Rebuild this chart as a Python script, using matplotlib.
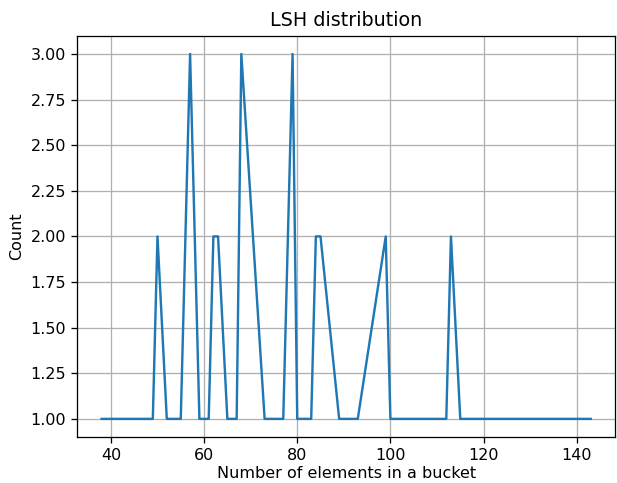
import matplotlib
matplotlib.use('Agg')
import matplotlib.pyplot as plt

# Bucket sizes (x) and how many buckets have that size (y)
bucket_sizes = [38, 49, 50, 52, 55, 57, 59, 61, 62, 63, 65, 67, 68, 73, 77, 79,
                80, 83, 84, 85, 89, 93, 99, 100, 112, 113, 115, 143]
bucket_counts = [1, 1, 2, 1, 1, 3, 1, 1, 2, 2, 1, 1, 3, 1, 1, 3,
                 1, 1, 2, 2, 1, 1, 2, 1, 1, 2, 1, 1]

dpi = 115
fig = plt.figure(figsize=(617 / dpi, 483 / dpi), dpi=dpi)
ax = fig.add_subplot(111)
fig.subplots_adjust(left=0.125, right=0.997, bottom=0.095, top=0.926)

ax.plot(bucket_sizes, bucket_counts)
ax.set_title('LSH distribution')
ax.set_xlabel('Number of elements in a bucket', labelpad=1.5)
ax.set_ylabel('Count')
ax.grid(True)

fig.savefig('out.png', dpi=dpi)
